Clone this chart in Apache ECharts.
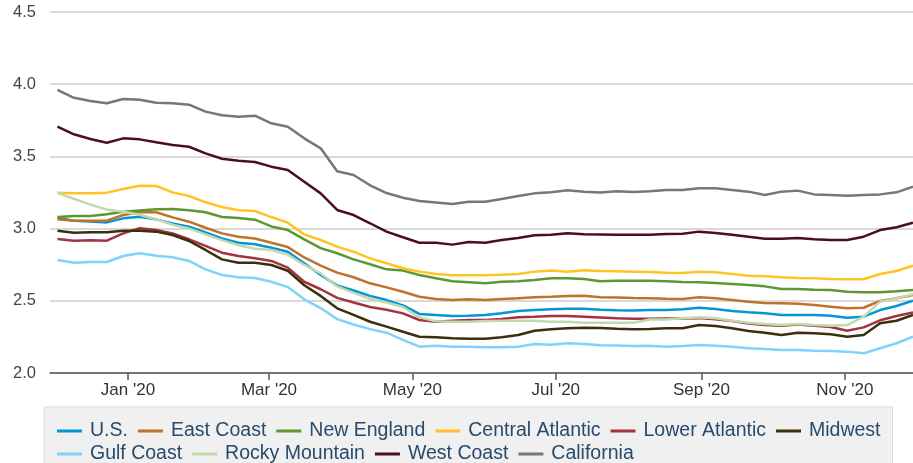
<!DOCTYPE html>
<html>
<head>
<meta charset="utf-8">
<script src="https://cdn.jsdelivr.net/npm/echarts@6/dist/echarts.min.js"></script>
<style>
html, body { margin: 0; padding: 0; background: #fff; }
#chart { width: 913px; height: 463px; }
</style>
</head>
<body>
<div id="chart"></div>
<script>
// weekly dates (Mondays)
var weeks = [
    '2019-12-02','2019-12-09','2019-12-16','2019-12-23','2019-12-30',
    '2020-01-06','2020-01-13','2020-01-20','2020-01-27',
    '2020-02-03','2020-02-10','2020-02-17','2020-02-24',
    '2020-03-02','2020-03-09','2020-03-16','2020-03-23','2020-03-30',
    '2020-04-06','2020-04-13','2020-04-20','2020-04-27',
    '2020-05-04','2020-05-11','2020-05-18','2020-05-25',
    '2020-06-01','2020-06-08','2020-06-15','2020-06-22','2020-06-29',
    '2020-07-06','2020-07-13','2020-07-20','2020-07-27',
    '2020-08-03','2020-08-10','2020-08-17','2020-08-24','2020-08-31',
    '2020-09-07','2020-09-14','2020-09-21','2020-09-28',
    '2020-10-05','2020-10-12','2020-10-19','2020-10-26',
    '2020-11-02','2020-11-09','2020-11-16','2020-11-23','2020-11-30'
];

var us = [3.075,3.055,3.050,3.043,3.071,3.082,3.064,3.036,3.013,2.974,2.932,2.902,2.891,2.868,2.840,2.760,2.679,2.607,2.571,2.534,2.505,2.468,2.409,2.402,2.395,2.397,2.402,2.413,2.429,2.436,2.441,2.445,2.445,2.438,2.434,2.432,2.436,2.436,2.441,2.452,2.443,2.429,2.420,2.413,2.402,2.402,2.402,2.397,2.383,2.390,2.436,2.464,2.500];
var eastCoast = [3.064,3.055,3.055,3.055,3.094,3.113,3.113,3.078,3.048,3.006,2.967,2.944,2.932,2.902,2.872,2.800,2.743,2.695,2.663,2.621,2.593,2.563,2.528,2.512,2.506,2.510,2.506,2.512,2.517,2.524,2.528,2.533,2.535,2.525,2.523,2.519,2.517,2.514,2.512,2.524,2.517,2.506,2.494,2.485,2.483,2.480,2.471,2.459,2.448,2.452,2.499,2.517,2.540];
var newEngland = [3.080,3.087,3.087,3.100,3.116,3.126,3.134,3.136,3.127,3.113,3.080,3.073,3.062,3.015,2.990,2.925,2.865,2.829,2.787,2.753,2.718,2.709,2.679,2.656,2.635,2.628,2.621,2.632,2.635,2.644,2.656,2.656,2.651,2.636,2.638,2.639,2.639,2.635,2.630,2.628,2.623,2.616,2.609,2.600,2.582,2.582,2.577,2.575,2.563,2.559,2.559,2.566,2.575];
var centralAtlantic = [3.249,3.244,3.244,3.249,3.274,3.297,3.295,3.251,3.226,3.182,3.150,3.127,3.122,3.080,3.041,2.960,2.921,2.875,2.840,2.794,2.760,2.725,2.702,2.686,2.677,2.677,2.677,2.681,2.686,2.702,2.709,2.702,2.711,2.706,2.704,2.702,2.699,2.695,2.693,2.702,2.697,2.686,2.674,2.670,2.663,2.658,2.656,2.651,2.649,2.649,2.686,2.706,2.743];
var lowerAtlantic = [2.928,2.916,2.920,2.916,2.967,3.002,2.990,2.967,2.926,2.880,2.833,2.810,2.794,2.776,2.730,2.632,2.580,2.520,2.488,2.457,2.438,2.413,2.367,2.355,2.362,2.367,2.367,2.374,2.386,2.390,2.395,2.395,2.390,2.385,2.379,2.376,2.376,2.378,2.378,2.380,2.372,2.360,2.343,2.332,2.328,2.336,2.328,2.318,2.292,2.316,2.365,2.395,2.420];
var midwest = [2.985,2.972,2.974,2.974,2.985,2.985,2.979,2.956,2.914,2.852,2.787,2.764,2.764,2.748,2.708,2.608,2.534,2.448,2.402,2.355,2.321,2.286,2.251,2.247,2.240,2.238,2.238,2.247,2.263,2.293,2.303,2.310,2.314,2.312,2.307,2.303,2.305,2.310,2.310,2.332,2.325,2.310,2.291,2.279,2.263,2.279,2.275,2.268,2.251,2.263,2.344,2.362,2.402];
var gulfCoast = [2.783,2.764,2.769,2.769,2.810,2.829,2.812,2.801,2.776,2.718,2.679,2.663,2.658,2.632,2.595,2.510,2.450,2.373,2.336,2.304,2.279,2.230,2.182,2.189,2.182,2.182,2.178,2.178,2.182,2.201,2.196,2.206,2.201,2.192,2.190,2.187,2.189,2.182,2.187,2.194,2.189,2.182,2.171,2.166,2.159,2.159,2.154,2.152,2.148,2.136,2.171,2.206,2.251];
var rockyMountain = [3.247,3.207,3.166,3.132,3.117,3.096,3.065,3.027,3.000,2.960,2.920,2.885,2.860,2.852,2.820,2.748,2.690,2.600,2.555,2.514,2.488,2.457,2.385,2.358,2.355,2.355,2.360,2.362,2.362,2.362,2.355,2.355,2.348,2.348,2.348,2.348,2.371,2.371,2.379,2.386,2.379,2.362,2.348,2.339,2.332,2.339,2.332,2.328,2.332,2.390,2.494,2.517,2.545];
var westCoast = [3.706,3.653,3.620,3.595,3.625,3.618,3.598,3.579,3.567,3.521,3.484,3.470,3.461,3.429,3.406,3.325,3.244,3.129,3.094,3.037,2.979,2.940,2.902,2.902,2.889,2.907,2.902,2.921,2.935,2.954,2.958,2.967,2.961,2.960,2.958,2.958,2.958,2.963,2.965,2.979,2.970,2.958,2.944,2.930,2.930,2.935,2.926,2.921,2.921,2.944,2.990,3.009,3.041];
var california = [3.960,3.906,3.884,3.868,3.898,3.893,3.872,3.868,3.858,3.810,3.785,3.775,3.782,3.729,3.706,3.625,3.556,3.397,3.371,3.300,3.246,3.214,3.191,3.181,3.171,3.186,3.186,3.205,3.226,3.244,3.251,3.265,3.256,3.250,3.259,3.253,3.258,3.267,3.267,3.279,3.279,3.267,3.256,3.233,3.256,3.263,3.237,3.233,3.228,3.233,3.237,3.251,3.290];

var seriesNames = ['U.S.','East Coast','New England','Central Atlantic','Lower Atlantic','Midwest','Gulf Coast','Rocky Mountain','West Coast','California'];
var seriesValues = [us, eastCoast, newEngland, centralAtlantic, lowerAtlantic, midwest, gulfCoast, rockyMountain, westCoast, california];
var seriesColors = ['#0096d7','#bd732a','#5d9732','#ffc423','#a33340','#3b2e0a','#7fd3fb','#c3d8ad','#4b0f17','#777777'];

var tickDates = ['2020-01-01','2020-03-01','2020-05-01','2020-07-01','2020-09-01','2020-11-01'];
var tickLabels = ["Jan '20","Mar '20","May '20","Jul '20","Sep '20","Nov '20"];
var yTicks = [2.0, 2.5, 3.0, 3.5, 4.0, 4.5];

function toTime(s){
    var p = s.split('-');
    return Date.UTC(+p[0], +p[1] - 1, +p[2]);
}

var tickTimes = tickDates.map(toTime);
var fontFam = "'Liberation Sans', Arial, sans-serif";

var series_list = [];
for (var k = 0; k < seriesNames.length; k++) {
    var pts = [];
    for (var i = 0; i < weeks.length; i++) {
        pts.push([toTime(weeks[i]), seriesValues[k][i]]);
    }
    series_list.push({
        name: seriesNames[k],
        type: 'line',
        showSymbol: false,
        symbol: 'none',
        lineStyle: { width: 2.5, color: seriesColors[k] },
        itemStyle: { color: seriesColors[k] },
        data: pts
    });
}

var chart = echarts.init(document.getElementById('chart'));
var option = {
    animation: false,
    backgroundColor: '#fff',
    grid: { left: 50, right: 0, top: 12, bottom: 90 },
    xAxis: {
        // dates as ms timestamps on a value axis, so ticks can sit on month starts
        type: 'value',
        min: Date.UTC(2019, 10, 28, 20),
        max: toTime(weeks[weeks.length - 1]),
        splitLine: { show: false },
        axisLine: { lineStyle: { color: '#555', width: 1.5 } },
        axisTick: { show: true, length: 7, customValues: tickTimes, lineStyle: { color: '#555', width: 1.5 } },
        axisLabel: {
            customValues: tickTimes,
            margin: 9,
            color: '#333',
            fontSize: 17,
            fontFamily: fontFam,
            formatter: function(v){
                var idx = tickTimes.indexOf(v);
                return idx >= 0 ? tickLabels[idx] : '';
            }
        }
    },
    yAxis: {
        type: 'value',
        min: yTicks[0],
        max: yTicks[yTicks.length - 1],
        interval: 0.5,
        axisLine: { show: false },
        axisTick: { show: false },
        splitLine: { lineStyle: { color: '#cccccc', width: 1.5 } },
        axisLabel: {
            margin: 14,
            color: '#444',
            fontSize: 16.5,
            fontFamily: fontFam,
            padding: [5, 0, 0, 0],
            formatter: function(v){ return v.toFixed(1); }
        }
    },
    legend: {
        data: seriesNames,
        left: 44,
        top: 407,
        width: 845,
        padding: [14, 5, 12, 13],
        backgroundColor: '#f0f0f0',
        borderColor: '#dcdcdc',
        borderWidth: 1,
        icon: 'rect',
        itemWidth: 25,
        itemHeight: 3,
        itemGap: 3,
        textStyle: { color: '#274b6d', fontSize: 19.5, lineHeight: 13, fontFamily: fontFam, padding: [0, 7, 0, 3] }
    },
    series: series_list
};
chart.setOption(option);
</script>
</body>
</html>
